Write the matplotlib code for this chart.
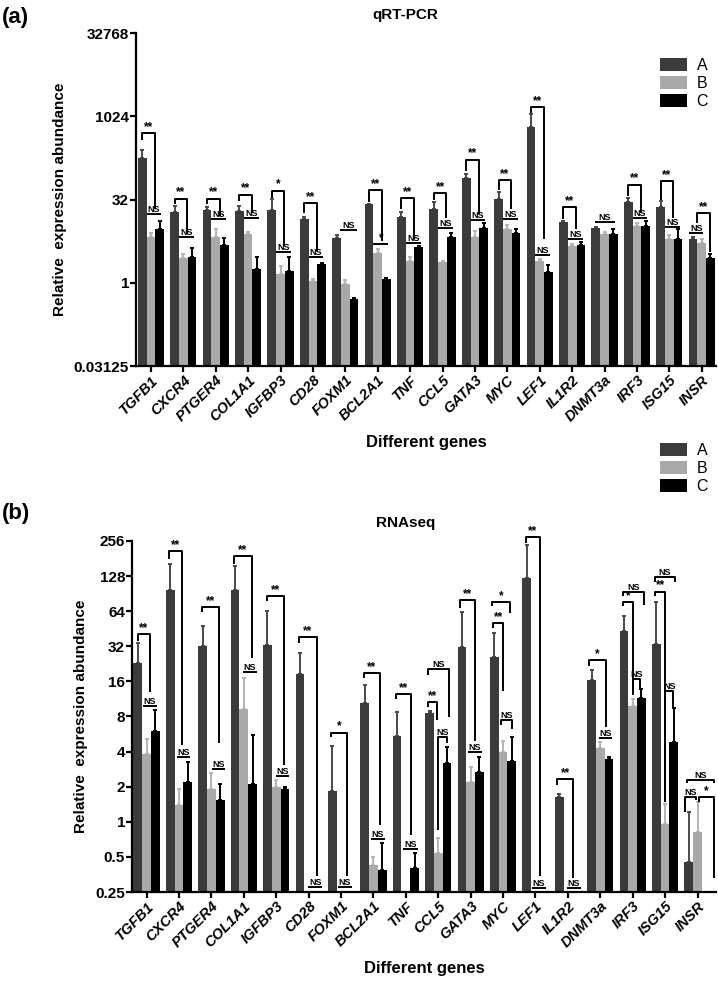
import numpy as np
import matplotlib
matplotlib.use('Agg')
import matplotlib.pyplot as plt
from matplotlib.patches import Patch

plt.rcParams['font.family'] = ['Liberation Sans', 'DejaVu Sans']

genes = ['TGFB1', 'CXCR4', 'PTGER4', 'COL1A1', 'IGFBP3', 'CD28', 'FOXM1', 'BCL2A1', 'TNF',
         'CCL5', 'GATA3', 'MYC', 'LEF1', 'IL1R2', 'DNMT3a', 'IRF3', 'ISG15', 'INSR']
groups = ['A', 'B', 'C']

# qRT-PCR (panel a): mean and upper error
qpcr_A = [181, 18.9, 21, 20, 20.5, 14.3, 6.5, 26, 15.6, 21.7, 79, 33, 648, 12.5, 9.8, 29, 23.6, 6.2]
qpcr_A_err = [75, 5.4, 2.6, 4.9, 12.4, 1.3, 0.7, 0.7, 3.6, 7.3, 15, 11, 480, 0.5, 0.5, 5.3, 6.3, 0.5]
qpcr_B = [6.8, 2.8, 6.8, 7.5, 1.41, 1.07, 0.93, 3.5, 2.46, 2.36, 6.8, 9.2, 2.46, 4.6, 7.5, 10.6, 6.2, 5.3]
qpcr_B_err = [1.2, 0.54, 2.4, 0.7, 0.6, 0.1, 0.19, 0.6, 0.5, 0.1, 2.0, 1.8, 0.25, 0.5, 0.8, 1.5, 1.1, 1.0]
qpcr_C = [9.2, 2.9, 4.9, 1.8, 1.62, 2.2, 0.5, 1.15, 4.4, 6.8, 9.8, 7.8, 1.56, 4.9, 7.5, 10.6, 6.1, 2.8]
qpcr_C_err = [3.8, 1.4, 1.5, 1.1, 1.3, 0.1, 0.04, 0.08, 0.2, 1.2, 2.3, 1.4, 0.5, 0.5, 1.9, 2.4, 3.1, 0.5]

# RNAseq (panel b); nan = below the axis floor
nan = np.nan
rna_A = [23.2, 97, 32, 97, 32.7, 18.5, 1.84, 10.4, 5.4, 8.6, 31.4, 26, 124, 1.62, 16.5, 43, 33.6, 0.45]
rna_A_err = [10.8, 65, 16, 58, 31, 9.5, 2.6, 4.6, 3.3, 0.4, 32, 16, 114, 0.11, 3.5, 15, 43, 0.77]
rna_B = [3.8, 1.4, 1.93, 9.2, 2.0, nan, nan, 0.43, nan, 0.54, 2.18, 4.0, nan, nan, 4.3, 9.9, 0.95, 0.82]
rna_B_err = [1.3, 0.53, 0.67, 7.8, 0.28, 0, 0, 0.07, 0, 0.19, 0.79, 0.9, 0, 0, 0.5, 1.4, 0.46, 0.67]
rna_C = [6.0, 2.18, 1.53, 2.1, 1.93, nan, nan, 0.385, 0.4, 3.2, 2.7, 3.35, nan, nan, 3.45, 11.5, 4.8, nan]
rna_C_err = [3.1, 1.1, 0.57, 3.5, 0.04, 0, 0, 0.27, 0.14, 1.2, 0.9, 2.0, 0, 0, 0.15, 2.2, 4.7, 0]

# significance marks: (gene, x1, x2 in bar slots A=-1 B=0 C=1, top, left end, right end as log2, text)
sig_a = [
    (0, -1, .45, 9.0, 8.6, 4.4, '**'), (0, -.5, 1.2, 4.1, 4.1, 4.1, 'NS'),
    (1, -1, .45, 5.06, 4.75, 2.95, '**'), (1, -.5, 1.2, 2.76, 2.76, 2.76, 'NS'),
    (2, -1, .45, 5.06, 4.7, 4.0, '**'), (2, -.5, 1.2, 3.8, 3.8, 3.8, 'NS'),
    (3, -1, .45, 5.3, 4.9, 4.2, '**'), (3, -.5, 1.2, 3.86, 3.86, 3.86, 'NS'),
    (4, -1, .45, 5.54, 5.1, 2.2, '*'), (4, -.5, 1.2, 1.86, 1.86, 1.86, 'NS'),
    (5, -1, .45, 4.8, 4.2, 1.9, '**'), (5, -.5, 1.2, 1.56, 1.56, 1.56, 'NS'),
    (6, -.6, 1.3, 3.16, 3.16, 3.16, 'NS'),
    (7, -1, .45, 5.56, 4.85, 2.5, '**'), (7, -.5, 1.2, 2.3, 2.3, 2.3, '*'),
    (8, -1, .45, 5.1, 4.4, 2.6, '**'), (8, -.5, 1.2, 2.36, 2.36, 2.36, 'NS'),
    (9, -1, .45, 5.4, 4.95, 3.9, '**'), (9, -.5, 1.2, 3.3, 3.3, 3.3, 'NS'),
    (10, -1, .45, 7.4, 6.7, 4.1, '**'), (10, -.5, 1.2, 3.76, 3.76, 3.76, 'NS'),
    (11, -1, .45, 6.16, 5.6, 4.4, '**'), (11, -.5, 1.2, 3.8, 3.8, 3.8, 'NS'),
    (12, -1, .45, 10.56, 10.2, 2.6, '**'), (12, -.5, 1.2, 1.64, 1.64, 1.64, 'NS'),
    (13, -1, .45, 4.56, 3.8, 3.2, '**'), (13, -.5, 1.2, 2.64, 2.64, 2.64, 'NS'),
    (14, -1.1, 1.2, 3.64, 3.64, 3.64, 'NS'),
    (15, -1, .45, 5.9, 5.2, 4.2, '**'), (15, -.5, 1.2, 3.86, 3.86, 3.86, 'NS'),
    (16, -1, .45, 6.1, 5.0, 3.9, '**'), (16, -.5, 1.2, 3.36, 3.36, 3.36, 'NS'),
    (17, -1.4, .2, 3.0, 3.0, 3.0, 'NS'), (17, -.5, 1.0, 4.16, 3.6, 1.85, '**'),
]
sig_b = [
    (0, -1, .37, 5.34, 5.15, 3.71, '**'), (0, -.4, 1.15, 3.31, 3.31, 3.31, 'NS'),
    (1, -1.1, .4, 7.72, 7.5, 2.2, '**'), (1, -.27, 1.27, 1.86, 1.86, 1.86, 'NS'),
    (2, -1.1, .85, 6.11, 5.99, 2.24, '**'), (2, .1, 1.5, 1.5, 1.5, 1.5, 'NS'),
    (3, -1.1, .89, 7.57, 7.35, 4.66, '**'), (3, -.07, 1.5, 4.26, 4.26, 4.26, 'NS'),
    (4, -1.1, .9, 6.44, 6.3, 1.62, '**'), (4, 0, 1.5, 1.3, 1.3, 1.3, 'NS'),
    (5, -1.1, .9, 5.26, 5.1, -1.55, '**'), (5, -.05, 1.55, -1.86, -1.86, -1.86, 'NS'),
    (6, -1.2, .7, 2.54, 2.43, -1.55, '*'), (6, -.3, 1.2, -1.86, -1.86, -1.86, 'NS'),
    (7, -1.1, .74, 4.23, 4.1, -0.1, '**'), (7, -.3, 1.3, -0.5, -0.5, -0.5, 'NS'),
    (8, -1.1, .58, 3.64, 3.5, -0.38, '**'), (8, -.3, 1.35, -0.78, -0.78, -0.78, 'NS'),
    (9, -1.15, -.1, 3.41, 3.28, 2.9, '**'), (9, -1.15, 1.22, 4.36, 4.19, 2.98, 'NS'),
    (9, 0, 1.03, 2.41, -0.24, 2.25, 'NS'),
    (10, -1.2, .5, 6.32, 6.1, 2.3, '**'), (10, -.27, 1.26, 1.98, 1.98, 1.98, 'NS'),
    (11, -1.1, 0, 5.66, 5.51, 3.74, '**'), (11, -1.3, .79, 6.27, 6.15, 5.96, '*'),
    (11, -.24, 1.0, 2.9, 2.76, 2.64, 'NS'),
    (12, -1.1, .5, 8.12, 7.95, -1.55, '**'), (12, -.4, 1.2, -1.9, -1.9, -1.9, 'NS'),
    (13, -1.2, .58, 1.21, 1.05, -1.6, '**'), (13, -.1, 1.46, -1.9, -1.9, -1.9, 'NS'),
    (14, -1.25, .6, 4.61, 4.45, 2.7, '*'), (14, -.1, 1.3, 2.38, 2.38, 2.38, 'NS'),
    (15, -1.14, .07, 6.27, 6.15, 3.62, '*'), (15, -1.14, 1.3, 6.56, 6.43, 6.18, 'NS'),
    (15, .07, .84, 4.06, 3.64, 3.8, 'NS'),
    (16, -1.15, 0, 6.56, 6.43, 0.57, '**'), (16, -1.15, 1.13, 6.98, 6.84, 6.84, 'NS'),
    (16, 0, .94, 3.74, 0.57, 3.24, 'NS'),
    (17, -1.45, -.15, 0.7, 0.29, 0.62, 'NS'), (17, .15, 1.85, 0.7, 0.57, -1.59, '*'),
    (17, -1.2, 1.85, 1.19, 1.1, 1.1, 'NS'),
]

colors = ['#3b3b3b', '#a9a9a9', '#000000']
err_colors = ['#4a4a4a', '#b4b4b4', '#000000']
w = 0.27


def draw_panel(ax, series, errs, ymin, ymax, ticks, sigs, xlim):
    x = np.arange(len(genes))
    for k in range(3):
        vals = np.array(series[k], dtype=float)
        e = np.array(errs[k], dtype=float)
        ax.bar(x + (k - 1) * w, vals - ymin, bottom=ymin, width=w, color=colors[k], linewidth=0, zorder=2)
        ax.errorbar(x + (k - 1) * w, vals, yerr=[np.zeros_like(e), e], fmt='none',
                    ecolor=err_colors[k], elinewidth=1.4, capsize=1.6, capthick=1.4, zorder=1)
    ax.set_yscale('log', base=2)
    ax.set_ylim(ymin, ymax)
    ax.set_xlim(*xlim)
    ax.set_yticks(ticks)
    ax.set_yticklabels([('%g' % t) for t in ticks], fontweight='bold', fontsize=11)
    ax.yaxis.set_minor_locator(matplotlib.ticker.NullLocator())
    ax.set_xticks(x)
    ax.set_xticklabels(genes, rotation=45, ha='right', rotation_mode='anchor',
                       fontweight='bold', style='italic', fontsize=10.5)
    for s in ['top', 'right']:
        ax.spines[s].set_visible(False)
    for s in ['left', 'bottom']:
        ax.spines[s].set_linewidth(1.6)
    ax.tick_params(width=1.6, length=4, direction='out', pad=1)
    ax.set_ylabel('Relative  expression abundance', fontweight='bold', fontsize=11, labelpad=5)
    ax.set_xlabel('Different genes', fontweight='bold', fontsize=12, labelpad=8)
    for g, x1, x2, top, left, right, txt in sigs:
        xa = g + x1 * w
        xb = g + x2 * w
        ax.plot([xa, xa, xb, xb], [2 ** left, 2 ** top, 2 ** top, 2 ** right],
                color='black', lw=1.4, solid_capstyle='butt', zorder=3, clip_on=False)
        if txt == 'NS':
            ax.text((xa + xb) / 2, 2 ** top, 'NS', ha='center', va='bottom', fontsize=6.5,
                    fontweight='bold', zorder=4)
        else:
            ax.text((xa + xb) / 2, 2 ** top, txt, ha='center', va='bottom', fontsize=8.5,
                    fontweight='bold', zorder=4)


fig = plt.figure(figsize=(7.18, 9.81), dpi=100)
ax1 = fig.add_axes([136 / 718, 1 - 366 / 981, 580 / 718, 333 / 981])
ax2 = fig.add_axes([132 / 718, 1 - 892 / 981, 584 / 718, 351 / 981])

draw_panel(ax1, [qpcr_A, qpcr_B, qpcr_C], [qpcr_A_err, qpcr_B_err, qpcr_C_err],
           0.03125, 32768, [0.03125, 1, 32, 1024, 32768], sig_a, (-0.46, 17.44))
draw_panel(ax2, [rna_A, rna_B, rna_C], [rna_A_err, rna_B_err, rna_C_err],
           0.25, 256, [0.25, 0.5, 1, 2, 4, 8, 16, 32, 64, 128, 256], sig_b, (-0.45, 17.57))

fig.text(405 / 718, 1 - 15 / 981, 'qRT-PCR', ha='center', va='center', fontweight='bold', fontsize=11)
fig.text(406 / 718, 1 - 523 / 981, 'RNAseq', ha='center', va='center', fontweight='bold', fontsize=11)
fig.text(2 / 718, 1 - 17 / 981, '(a)', ha='left', va='center', fontweight='bold', fontsize=16)
fig.text(2 / 718, 1 - 513 / 981, '(b)', ha='left', va='center', fontweight='bold', fontsize=16)

handles = [Patch(facecolor=c, edgecolor='none') for c in colors]
for ytop in [58, 443]:
    fig.legend(handles, groups, loc='upper left', bbox_to_anchor=(660 / 718, 1 - ytop / 981),
               frameon=False, fontsize=11.5, handlelength=1.7, handleheight=0.85,
               labelspacing=0.2, handletextpad=0.6, borderpad=0, borderaxespad=0)

fig.savefig('out.png', dpi=100)
